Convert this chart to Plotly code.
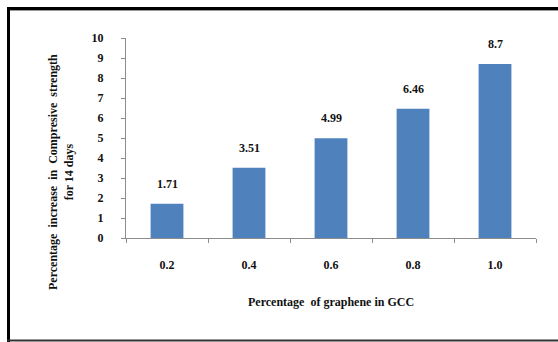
import plotly.graph_objects as go

# Graphene content (%) and strength increase (%) at 14 days
categories = ["0.2", "0.4", "0.6", "0.8", "1.0"]
increase = [1.71, 3.51, 4.99, 6.46, 8.7]
y_ticks = list(range(0, 11))

W, H = 558, 342
L, R, T, B = 126, 22, 38, 104
PW, PH = W - L - R, H - T - B


def px_x(p):
    return (p - L) / PW


def px_y(p):
    return (H - B - p) / PH


FONT = "Liberation Serif"
AXIS_GREY = "#8c8c8c"

fig = go.Figure(
    go.Bar(
        x=categories,
        y=increase,
        width=0.4,
        marker=dict(color="#4f81bd", line=dict(width=0)),
        hoverinfo="x+y",
    )
)

# value labels above each bar (category axis positions are indices)
for i, v in enumerate(increase):
    fig.add_annotation(
        x=i, y=v, text=str(v), showarrow=False,
        yanchor="bottom", yshift=11,
        font=dict(family=FONT, size=12, color="#111111", weight="bold"),
    )

# axis titles
fig.add_annotation(
    xref="paper", yref="paper",
    x=px_x(61), y=px_y(172),
    text="Percentage  increase  in  Compresive  strength<br>for 14 days",
    textangle=-90, showarrow=False,
    xanchor="center", yanchor="middle",
    font=dict(family=FONT, size=12, color="#111111", weight="bold"),
)
fig.add_annotation(
    xref="paper", yref="paper",
    x=px_x(331), y=px_y(302),
    text="Percentage  of graphene in GCC",
    showarrow=False, xanchor="center", yanchor="middle",
    font=dict(family=FONT, size=12, color="#111111", weight="bold"),
)

# frame around the chart (top, left, bottom)
fig.add_shape(type="line", xref="paper", yref="paper",
              x0=px_x(7), x1=px_x(560), y0=px_y(8.5), y1=px_y(8.5),
              line=dict(color="#000000", width=3))
fig.add_shape(type="line", xref="paper", yref="paper",
              x0=px_x(10), x1=px_x(560), y0=px_y(10.5), y1=px_y(10.5),
              line=dict(color="#9a9a9a", width=1))
fig.add_shape(type="line", xref="paper", yref="paper",
              x0=px_x(8.5), x1=px_x(8.5), y0=px_y(7), y1=px_y(343),
              line=dict(color="#000000", width=3))
fig.add_shape(type="line", xref="paper", yref="paper",
              x0=px_x(7), x1=px_x(560), y0=px_y(340.5), y1=px_y(340.5),
              line=dict(color="#333333", width=2))

fig.update_layout(
    width=W, height=H,
    margin=dict(l=L, r=R, t=T, b=B, pad=0),
    paper_bgcolor="white", plot_bgcolor="white",
    showlegend=False,
    bargap=0.6,
    xaxis=dict(
        type="category",
        categoryorder="array", categoryarray=categories,
        showline=True, linecolor=AXIS_GREY, linewidth=1,
        ticks="outside", tickson="boundaries", ticklen=4,
        tickcolor=AXIS_GREY, tickwidth=1,
        ticklabelstandoff=16,
        tickfont=dict(family=FONT, size=12, color="#111111", weight="bold"),
        showgrid=False, zeroline=False,
    ),
    yaxis=dict(
        range=[0, 10],
        tickvals=y_ticks,
        showline=True, linecolor=AXIS_GREY, linewidth=1,
        ticks="outside", ticklen=4, tickcolor=AXIS_GREY, tickwidth=1,
        ticklabelstandoff=15,
        tickfont=dict(family=FONT, size=12, color="#111111", weight="bold"),
        showgrid=False, zeroline=False,
    ),
)

fig.write_html("out.html")
